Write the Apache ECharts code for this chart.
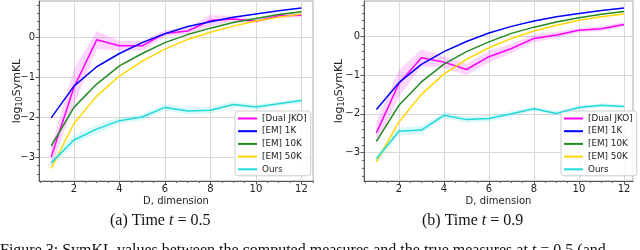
<!DOCTYPE html>
<html><head><meta charset="utf-8">
<script src="https://cdn.jsdelivr.net/npm/echarts@6/dist/echarts.min.js"></script>
<style>html,body{margin:0;padding:0;background:#fff}#c{width:640px;height:250px}</style>
</head><body><div id="c"></div>
<script>
const D = [1,2,3,4,5,6,7,8,9,10,11,12];
const names = ['[Dual JKO]','[EM] 1K','[EM] 10K','[EM] 50K','Ours'];
const colors = ['#ff00ff','#0000ff','#228b22','#ffd700','#1fd9dc'];
const xTicks = [2,4,6,8,10,12];
const yTicks = [-3,-2,-1,0];

// (a) t = 0.5
const L_JKO  = [-2.98,-1.25,-0.07,-0.22,-0.22,0.09,0.15,0.41,0.45,0.39,0.53,0.54];
const L_EM1K = [-2.01,-1.22,-0.74,-0.41,-0.14,0.08,0.26,0.38,0.49,0.57,0.65,0.72];
const L_EM10K= [-2.71,-1.75,-1.17,-0.72,-0.41,-0.14,0.06,0.22,0.36,0.46,0.56,0.63];
const L_EM50K= [-3.27,-2.15,-1.47,-0.97,-0.60,-0.30,-0.06,0.12,0.27,0.40,0.49,0.57];
const L_Ours = [-3.13,-2.56,-2.29,-2.08,-1.99,-1.75,-1.84,-1.82,-1.68,-1.74,-1.66,-1.58];
const L_JKO_err  = [0.25,0.45,0.22,0.12,0.12,0.08,0.08,0.14,0.08,0.05,0.05,0.05];
const L_Ours_err = [0.10,0.12,0.10,0.08,0.08,0.08,0.08,0.08,0.08,0.06,0.06,0.06];

// (b) t = 0.9
const R_JKO  = [-2.49,-1.22,-0.56,-0.67,-0.86,-0.53,-0.32,-0.06,0.03,0.15,0.19,0.30];
const R_EM1K = [-1.89,-1.20,-0.73,-0.40,-0.14,0.08,0.25,0.39,0.50,0.58,0.66,0.72];
const R_EM10K= [-2.71,-1.78,-1.18,-0.72,-0.40,-0.15,0.07,0.23,0.36,0.47,0.56,0.63];
const R_EM50K= [-3.24,-2.21,-1.50,-0.98,-0.60,-0.30,-0.06,0.13,0.28,0.41,0.50,0.57];
const R_Ours = [-3.16,-2.45,-2.42,-2.04,-2.15,-2.12,-2.00,-1.87,-1.99,-1.84,-1.78,-1.81];
const R_JKO_err  = [0.30,0.35,0.22,0.15,0.15,0.15,0.12,0.10,0.08,0.06,0.06,0.06];
const R_Ours_err = [0.10,0.10,0.10,0.08,0.08,0.08,0.07,0.06,0.06,0.05,0.05,0.05];

const F = 'DejaVu Sans';
const minorY = []; for (let k=-18;k<=4;k++){ if (k%5!==0) minorY.push(k/5); }
const minorX = []; for (let k=1;k<=25;k++){ if (k%4!==0) minorX.push(k/2); }

const grids = [
  {left:39, top:1, width:274, height:180},
  {left:364, top:1, width:269, height:180}
];
const yRanges = [[-3.58,0.895],[-3.73,0.903]];
const xRanges = [[0.464,12.51],[0.448,12.4]];
const yNameGap = [15, 18];

const fmt = v => v < 0 ? '\u2212' + Math.abs(v) : String(v);

const xAxis = [], yAxis = [];
[0,1].forEach(g => {
  xAxis.push({type:'value', gridIndex:g, min:xRanges[g][0], max:xRanges[g][1],
    name:'D, dimension', nameLocation:'middle', nameGap:15, nameMoveOverlap:false,
    nameTextStyle:{fontFamily:F, fontSize:10, color:'#222'},
    axisLine:{show:true, onZero:false, lineStyle:{color:'#555', width:1}},
    axisTick:{show:true, length:3.5, customValues:xTicks, lineStyle:{color:'#555'}},
    axisLabel:{customValues:xTicks, fontFamily:F, fontSize:10, color:'#222', margin:3},
    splitLine:{show:true, lineStyle:{color:'#d8d8d8', width:1}}
  });
  yAxis.push({type:'value', gridIndex:g, min:yRanges[g][0], max:yRanges[g][1],
    name:'{a|log}{b|10}{a|SymKL}', nameLocation:'middle', nameGap:yNameGap[g], nameMoveOverlap:false,
    nameTextStyle:{fontFamily:F, color:'#222', rich:{
      a:{fontFamily:F, fontSize:11, color:'#222', lineHeight:14},
      b:{fontFamily:F, fontSize:8, color:'#222', lineHeight:14, verticalAlign:'bottom', padding:[5,0,0,0]}}},
    axisLine:{show:true, onZero:false, lineStyle:{color:'#555', width:1}},
    axisTick:{show:true, length:3.5, customValues:yTicks, lineStyle:{color:'#555'}},
    axisLabel:{customValues:yTicks, formatter:fmt, fontFamily:F, fontSize:10, color:'#222', margin:4},
    splitLine:{show:true, lineStyle:{color:'#d8d8d8', width:1}}
  });
});
// minor tick axes
[0,1].forEach(g => {
  xAxis.push({type:'value', gridIndex:g, min:xRanges[g][0], max:xRanges[g][1], position:'bottom',
    axisLine:{show:false, onZero:false}, axisLabel:{show:false}, splitLine:{show:false},
    axisTick:{show:true, length:2, customValues:minorX, lineStyle:{color:'#666'}}});
  yAxis.push({type:'value', gridIndex:g, min:yRanges[g][0], max:yRanges[g][1], position:'left',
    axisLine:{show:false, onZero:false}, axisLabel:{show:false}, splitLine:{show:false},
    axisTick:{show:true, length:2, customValues:minorY, lineStyle:{color:'#666'}}});
});

const pairs = arr => D.map((d,i) => [d, arr[i]]);
const series = [];
function band(g, vals, err, color) {
  series.push({type:'custom', xAxisIndex:g, yAxisIndex:g, silent:true, z:1,
    data:[[D[0], vals[0]]],
    renderItem: (params, api) => {
      const up = D.map((d,i) => api.coord([d, vals[i] + err[i]]));
      const lo = D.map((d,i) => api.coord([d, vals[i] - err[i]])).reverse();
      const cs = params.coordSys;
      return {type:'polygon', shape:{points: up.concat(lo)},
        style:{fill:color, opacity:0.16},
        clipPath:{type:'rect', shape:{x:cs.x, y:cs.y, width:cs.width, height:cs.height}}};
    }});
}
band(0, L_JKO, L_JKO_err, colors[0]);
band(0, L_Ours, L_Ours_err, colors[4]);
band(1, R_JKO, R_JKO_err, colors[0]);
band(1, R_Ours, R_Ours_err, colors[4]);

const sets = [[L_JKO,L_EM1K,L_EM10K,L_EM50K,L_Ours],[R_JKO,R_EM1K,R_EM10K,R_EM50K,R_Ours]];
[0,1].forEach(g => {
  sets[g].forEach((arr, k) => {
    series.push({type:'line', name:names[k], xAxisIndex:g, yAxisIndex:g, data:pairs(arr),
      showSymbol:false, symbol:'none', lineStyle:{color:colors[k], width:1.5}, itemStyle:{color:colors[k]}, z:3+k});
  });
});

const legendCommon = {orient:'vertical', data:names, icon:'rect', itemWidth:19, itemHeight:2, itemGap:3.7, itemTextGap:6,
  itemStyle:{borderWidth:0},
  textStyle:{fontFamily:F, fontSize:8.8, color:'#222', padding:[0,0,0,0]},
  backgroundColor:'rgba(255,255,255,0.85)', borderColor:'#cccccc', borderWidth:1, borderRadius:3,
  padding:[3,4,2,3], selectedMode:false};
const legend = [
  Object.assign({}, legendCommon, {left:235, top:111}),
  Object.assign({}, legendCommon, {left:561, top:111})
];

const serif = 'Liberation Serif';
const cap = (txt, left, top) => ({type:'text', left:left, top:top, style:{text:txt, fontFamily:serif, fontSize:16, fill:'#111',
  rich:{i:{fontFamily:serif, fontStyle:'italic', fontSize:16, fill:'#111'}}}});

const chart = echarts.init(document.getElementById('c'), null, {renderer:'canvas'});
chart.setOption({
  animation:false,
  backgroundColor:'#fff',
  grid: grids.map(g => Object.assign({show:true, borderColor:'#aaa', borderWidth:1, backgroundColor:'transparent'}, g)),
  xAxis, yAxis, series, legend,
  graphic:[
    cap('(a) Time {i|t} = 0.5', 110, 213),
    cap('(b) Time {i|t} = 0.9', 422, 213),
    cap('Figure 3: SymKL values between the computed measures and the true measures at {i|t} = 0.5 (and', 0, 243)
  ]
});
</script></body></html>
